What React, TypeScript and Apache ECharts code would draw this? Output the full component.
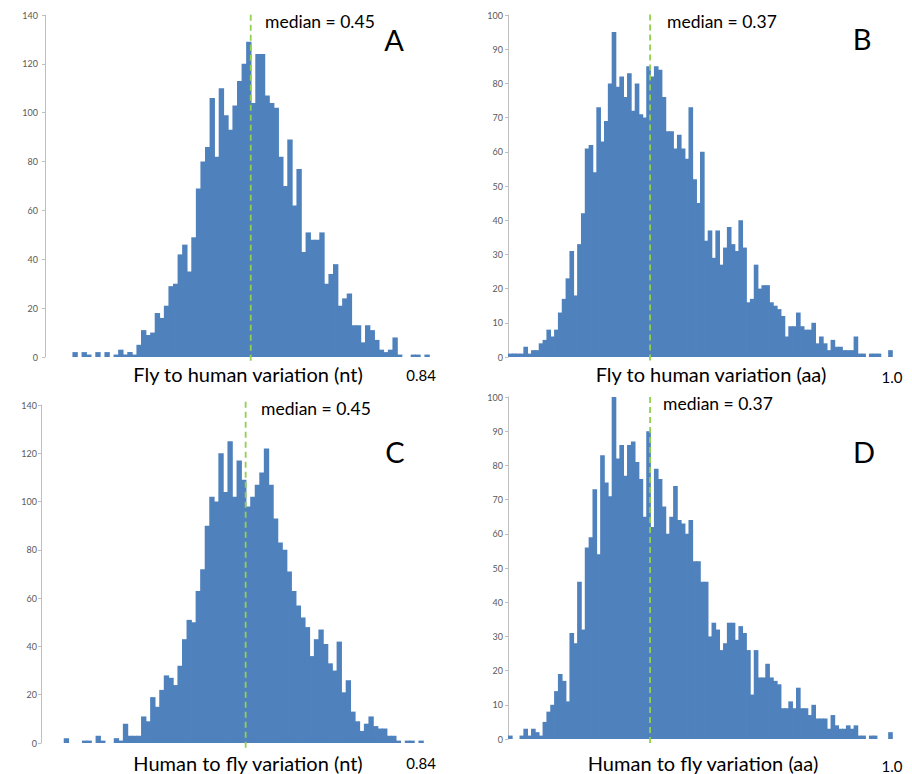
import React, { useEffect, useRef } from "react";
import * as echarts from "echarts";

// Histogram counts, one value per 0.01-wide bin starting at 0
const countsA = [
  0, 0, 0, 0, 0, 0, 2, 0, 2, 1, 0, 2, 0, 2, 0, 1, 3, 1, 2, 1, 5, 11, 9, 10, 18, 16,
  21, 29, 30, 42, 46, 35, 49, 69, 80, 86, 106, 82, 110, 99, 93, 103, 113, 120, 129, 104,
  124, 124, 107, 104, 102, 82, 70, 89, 62, 77, 43, 51, 48, 48, 51, 30, 34, 38, 21, 24,
  26, 13, 13, 6, 13, 11, 7, 3, 2, 3, 8, 1, 0, 0, 1, 1, 0, 1,
];
const countsB = [
  1, 1, 1, 1, 3, 1, 2, 2, 4, 5, 8, 6, 8, 13, 17, 23, 31, 18, 33, 42,
  61, 62, 54, 73, 63, 69, 80, 95, 79, 82, 76, 83, 72, 80, 71, 70, 85, 82, 85, 84,
  76, 66, 66, 61, 65, 61, 58, 73, 52, 45, 60, 34, 37, 29, 37, 27, 32, 38, 33, 31,
  40, 32, 16, 17, 27, 20, 21, 21, 16, 15, 14, 12, 6, 9, 9, 13, 9, 8, 8, 10,
  4, 6, 4, 2, 5, 3, 3, 2, 2, 2, 6, 1, 1, 0, 1, 1, 1, 0, 0, 2,
];
const countsC = [
  0, 0, 0, 0, 0, 2, 0, 0, 0, 1, 1, 0, 3, 1, 0, 0, 2, 1, 8, 3,
  3, 3, 11, 9, 19, 15, 22, 28, 27, 24, 32, 43, 51, 50, 63, 72, 90, 102, 100, 120,
  104, 125, 102, 117, 109, 98, 102, 107, 112, 122, 107, 93, 83, 80, 71, 63, 57, 52, 48, 36,
  43, 47, 41, 33, 30, 42, 21, 26, 13, 9, 5, 8, 11, 7, 6, 6, 3, 3, 1, 0,
  1, 1, 0, 1,
];
const countsD = [
  1, 0, 0, 1, 3, 1, 3, 2, 1, 5, 8, 10, 14, 19, 17, 11, 31, 28, 46, 32,
  56, 59, 73, 54, 83, 75, 71, 100, 82, 86, 77, 86, 87, 81, 76, 65, 90, 62, 79, 76,
  68, 60, 65, 74, 64, 63, 60, 64, 52, 52, 46, 46, 30, 34, 32, 26, 28, 34, 34, 29,
  33, 31, 26, 13, 26, 18, 18, 22, 18, 17, 16, 9, 9, 11, 9, 15, 9, 9, 7, 10,
  6, 6, 6, 3, 7, 4, 3, 3, 4, 3, 4, 1, 1, 0, 1, 1, 0, 0, 0, 2,
];

const BIN = 0.01;
const xMaxes = [0.84, 1.0, 0.84, 1.0];
const xEndLabels = ["0.84", "1.0", "0.84", "1.0"];
const yMaxes = [140, 100, 140, 100];
const yIntervals = [20, 10, 20, 10];
const medians = [0.45, 0.37, 0.45, 0.37];
const medianLabels = ["median = 0.45", "median = 0.37", "median = 0.45", "median = 0.37"];
const axisTitles = [
  "Fly to human variation (nt)",
  "Fly to human variation (aa)",
  "Human to fly variation (nt)",
  "Human to fly variation (aa)",
];
const panelLetters = ["A", "B", "C", "D"];
const allCounts = [countsA, countsB, countsC, countsD];

const FONT = "Lato";
const BAR = "#4f81bd";

export default function App() {
  const ref = useRef<HTMLDivElement>(null);
  useEffect(() => {
    if (!ref.current) return;
    const chart = echarts.init(ref.current, null, { renderer: "svg" });

    const grids = [
      { left: 45, top: 15, width: 384, height: 342 },
      { left: 508, top: 15, width: 384, height: 342 },
      { left: 41, top: 405, width: 382, height: 338 },
      { left: 508, top: 397, width: 384, height: 342 },
    ];
    const yOffsets = [3, 1, 0, 1];
    const xLabelMargins = [10, 12, 12, 19];
    const xLabelPads = [[0, 16, 0, 0], [0, 0, 0, 0], [0, 4, 0, 0], [0, 0, 0, 0]];
    const medianRange = [
      [-1.5, 141],
      [-1, 101],
      [-2, 142],
      [-1.2, 101],
    ];

    const series: any[] = [];
    allCounts.forEach((counts, i) => {
      series.push({
        type: "custom",
        xAxisIndex: i,
        yAxisIndex: i,
        silent: true,
        data: counts.map((c, k) => [k * BIN, c]).filter((d) => d[1] > 0),
        renderItem: (params: any, api: any) => {
          const x0 = api.value(0);
          const v = api.value(1);
          const p0 = api.coord([x0, v]);
          const p1 = api.coord([x0 + BIN, 0]);
          return {
            type: "rect",
            shape: { x: p0[0], y: p0[1], width: p1[0] - p0[0] + 0.8, height: p1[1] - p0[1] },
            style: { fill: BAR },
          };
        },
      });
      series.push({
        type: "line",
        xAxisIndex: i,
        yAxisIndex: i,
        silent: true,
        clip: false,
        showSymbol: false,
        symbol: "none",
        data: [
          [medians[i], medianRange[i][0]],
          [medians[i], medianRange[i][1]],
        ],
        lineStyle: { color: "#92d050", width: 1.8, type: [6, 4] },
        z: 5,
      });
    });

    const textPos = [
      { title: [248, 374], med: [265, 21], letter: [394, 39] },
      { title: [711, 374], med: [667, 21], letter: [862, 38] },
      { title: [248, 763], med: [261, 408], letter: [395, 451] },
      { title: [703, 763], med: [663, 403], letter: [864, 451] },
    ];
    const graphic: any[] = [];
    textPos.forEach((p, i) => {
      graphic.push({
        type: "text",
        x: p.title[0],
        y: p.title[1],
        style: { text: axisTitles[i], font: `20px ${FONT}`, fill: "#000", textAlign: "center", textVerticalAlign: "middle" },
      });
      graphic.push({
        type: "text",
        x: p.med[0],
        y: p.med[1],
        style: { text: medianLabels[i], font: `17.5px ${FONT}`, fill: "#000", textAlign: "left", textVerticalAlign: "middle" },
      });
      graphic.push({
        type: "text",
        x: p.letter[0],
        y: p.letter[1],
        style: { text: panelLetters[i], font: `29px ${FONT}`, fill: "#000", textAlign: "center", textVerticalAlign: "middle" },
      });
    });

    chart.setOption({
      animation: false,
      grid: grids,
      xAxis: grids.map((_, i) => ({
        type: "value",
        gridIndex: i,
        min: 0,
        max: xMaxes[i],
        interval: xMaxes[i],
        axisLine: { show: false },
        axisTick: { show: false },
        splitLine: { show: false },
        axisLabel: {
          show: true,
          showMinLabel: false,
          showMaxLabel: true,
          margin: xLabelMargins[i],
          padding: xLabelPads[i],
          fontFamily: FONT,
          fontSize: 15,
          color: "#000",
          formatter: (v: number) => (Math.abs(v - xMaxes[i]) < 1e-9 ? xEndLabels[i] : ""),
        },
      })),
      yAxis: grids.map((_, i) => ({
        type: "value",
        gridIndex: i,
        min: 0,
        max: yMaxes[i],
        interval: yIntervals[i],
        offset: yOffsets[i],
        axisLine: { show: true, lineStyle: { color: "#bfbfbf", width: 1 } },
        axisTick: { show: true, length: 3, lineStyle: { color: "#bfbfbf" } },
        splitLine: { show: false },
        axisLabel: { margin: 4, fontFamily: FONT, fontSize: 9, color: "#595959" },
      })),
      series,
      graphic,
    });
    return () => chart.dispose();
  }, []);
  return <div ref={ref} style={{ position: "absolute", left: 0, top: 0, width: 912, height: 774 }} />;
}
